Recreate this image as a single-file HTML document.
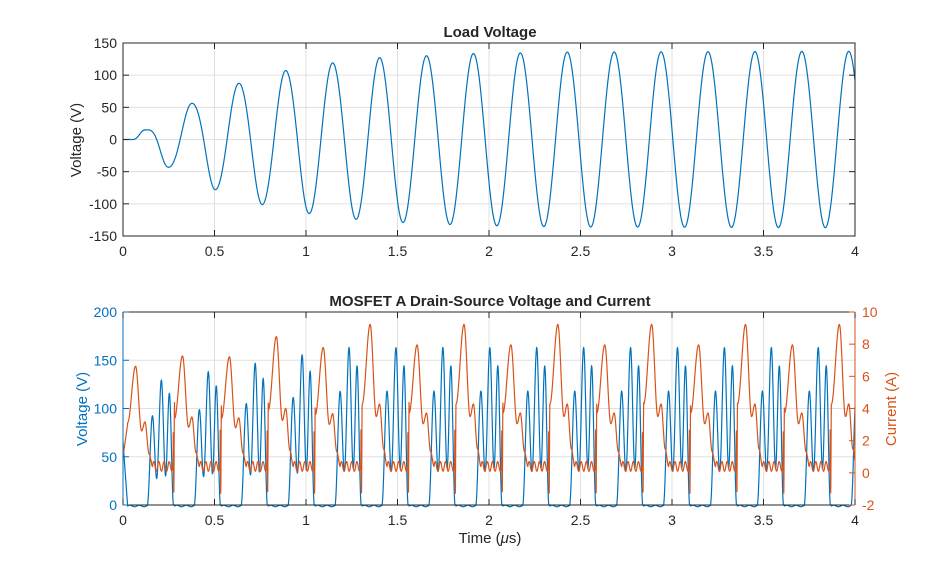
<!DOCTYPE html>
<html><head><meta charset="utf-8">
<style>
html,body{margin:0;padding:0;background:#fff;}
svg{display:block;font-family:"Liberation Sans",sans-serif;}
</style></head>
<body>
<svg id="s" width="946" height="569" xmlns="http://www.w3.org/2000/svg">
<rect width="946" height="569" fill="#fff"/>
<g id="g"></g>
</svg>
<script>
const NS="http://www.w3.org/2000/svg";
const g=document.getElementById('g');
function el(t,a,txt){const e=document.createElementNS(NS,t);for(const k in a)e.setAttribute(k,a[k]);if(txt!==undefined)e.textContent=txt;g.appendChild(e);return e;}
const X0=123,X1=855,XS=(X1-X0)/4;
function xp(t){return X0+t*XS;}
const T0=43,T1=236;
function ytop(v){return T0+(150-v)/300*(T1-T0);}
function grid(y0,y1,ys){
  for(let i=0;i<=8;i++){const x=X0+i*XS/2;el('line',{x1:x,x2:x,y1:y0,y2:y1,stroke:'#e0e0e0','stroke-width':1});}
  ys.forEach(y=>el('line',{x1:X0,x2:X1,y1:y,y2:y,stroke:'#e0e0e0','stroke-width':1}));
}
let tys=[];for(let v=-150;v<=150;v+=50)tys.push(ytop(v));
grid(T0,T1,tys);
function interp(keys,t){
  if(t<=keys[0][0])return keys[0][1];
  for(let i=1;i<keys.length;i++){if(t<=keys[i][0]){const a=keys[i-1],b=keys[i];const f=(t-a[0])/(b[0]-a[0]);const s=(1-Math.cos(Math.PI*f))/2;return a[1]+(b[1]-a[1])*s;}}
  return keys[keys.length-1][1];
}
const env=[[0.04,0],[0.12,15],[0.24,43],[0.37,56],[0.5,78],[0.62,87],[0.75,101],[0.88,107],[1.0,115],[1.14,119],[1.26,124],[1.5,129],[2,134],[2.5,136],[4,137]];
const T=0.2564;
let d='';
for(let i=0;i<=3000;i++){const t=i/3000*4;const e=interp(env,t);const v=e*Math.cos(2*Math.PI*(t-0.12)/T);d+=(i?'L':'M')+xp(t).toFixed(2)+' '+ytop(v).toFixed(2);}
el('path',{d:d,fill:'none',stroke:'#0072BD','stroke-width':1.2});
el('rect',{x:X0,y:T0,width:X1-X0,height:T1-T0,fill:'none',stroke:'#262626','stroke-width':1});
for(let i=0;i<=8;i++){const x=X0+i*XS/2;el('line',{x1:x,x2:x,y1:T1,y2:T1-6,stroke:'#262626'});el('line',{x1:x,x2:x,y1:T0,y2:T0+6,stroke:'#262626'});
 el('text',{x:x,y:T1+20,'font-size':14,'text-anchor':'middle',fill:'#262626'},String(i/2));}
for(let v=-150;v<=150;v+=50){const y=ytop(v);el('line',{x1:X0,x2:X0+6,y1:y,y2:y,stroke:'#262626'});el('line',{x1:X1,x2:X1-6,y1:y,y2:y,stroke:'#262626'});
 el('text',{x:X0-6,y:y+5,'font-size':14,'text-anchor':'end',fill:'#262626'},String(v));}
el('text',{x:490,y:37,'font-size':15,'font-weight':'bold','text-anchor':'middle',fill:'#262626'},'Load Voltage');
el('text',{x:0,y:0,'font-size':15,'text-anchor':'middle',fill:'#262626',transform:'translate(81,140) rotate(-90)'},'Voltage (V)');
const B0=312,B1=505;
function yl(v){return B0+(200-v)/200*(B1-B0);}
function yr(v){return B0+(10-v)/12*(B1-B0);}
let bys=[];for(let v=0;v<=200;v+=50)bys.push(yl(v));
grid(B0,B1,bys);
const blueK=[[0,0],[0.42,0],[0.53,118],[0.62,35],[0.72,163],[0.81,38],[0.89,144],[0.98,0],[1,0]];
const orK=[[0,4.4],[0.17,9.5],[0.30,3.6],[0.37,4.4],[0.46,1.5],[0.53,0.4],[0.97,0.4],[0.975,2.7],[0.985,-1.3],[1,4.4]];
const off0=0.025;
let db='',dor='';
const N=6000;
for(let i=0;i<=N;i++){
  const t=i/N*4;
  let p=((t-off0)/T)%1; if(p<0)p+=1;
  const n=Math.floor((t-off0)/T);
  let bv=interp(blueK,p);
  let ov=interp(orK,p);
  const ramp=Math.min(1,0.75+0.25*t/1.2);
  bv*=ramp;
  if(p>0.53&&p<0.96) ov=0.4+0.3*Math.sin(2*Math.PI*(p-0.53)/0.11);
  if(p<=0.5){ov=(ov-0.4)*(0.9+0.07*((n%2)?1:-1)*Math.min(1,t))*ramp+0.4;}
  if(p<0.42) bv=-1+0.8*Math.sin(2*Math.PI*p/0.2);
  if(t<0.025){bv=65*(1-t/0.025);ov=1+2*t/0.025;}
  db+=(i?'L':'M')+xp(t).toFixed(2)+' '+yl(bv).toFixed(2);
  dor+=(i?'L':'M')+xp(t).toFixed(2)+' '+yr(ov).toFixed(2);
}
el('path',{d:db,fill:'none',stroke:'#0072BD','stroke-width':1.2});
el('path',{d:dor,fill:'none',stroke:'#D95319','stroke-width':1.2});
el('line',{x1:X0,x2:X1,y1:B1,y2:B1,stroke:'#262626'});
el('line',{x1:X0,x2:X1,y1:B0,y2:B0,stroke:'#262626'});
el('line',{x1:X0,x2:X0,y1:B0,y2:B1,stroke:'#0072BD'});
el('line',{x1:X1,x2:X1,y1:B0,y2:B1,stroke:'#D95319'});
for(let i=0;i<=8;i++){const x=X0+i*XS/2;el('line',{x1:x,x2:x,y1:B1,y2:B1-6,stroke:'#262626'});el('line',{x1:x,x2:x,y1:B0,y2:B0+6,stroke:'#262626'});
 el('text',{x:x,y:B1+20,'font-size':14,'text-anchor':'middle',fill:'#262626'},String(i/2));}
for(let v=0;v<=200;v+=50){const y=yl(v);el('line',{x1:X0,x2:X0+6,y1:y,y2:y,stroke:'#0072BD'});
 el('text',{x:X0-6,y:y+5,'font-size':14,'text-anchor':'end',fill:'#0072BD'},String(v));}
for(let v=-2;v<=10;v+=2){const y=yr(v);el('line',{x1:X1,x2:X1-6,y1:y,y2:y,stroke:'#D95319'});
 el('text',{x:X1+7,y:y+5,'font-size':14,'text-anchor':'start',fill:'#D95319'},String(v));}
el('text',{x:490,y:306,'font-size':15,'font-weight':'bold','text-anchor':'middle',fill:'#262626'},'MOSFET A Drain-Source Voltage and Current');
el('text',{x:0,y:0,'font-size':15,'text-anchor':'middle',fill:'#0072BD',transform:'translate(87,409) rotate(-90)'},'Voltage (V)');
el('text',{x:0,y:0,'font-size':15,'text-anchor':'middle',fill:'#D95319',transform:'translate(896,409) rotate(-90)'},'Current (A)');
const tl=el('text',{x:490,y:543,'font-size':15,'text-anchor':'middle',fill:'#262626'});
tl.innerHTML='Time  (<tspan font-style="italic">μ</tspan>s)';
</script>
</body></html>
